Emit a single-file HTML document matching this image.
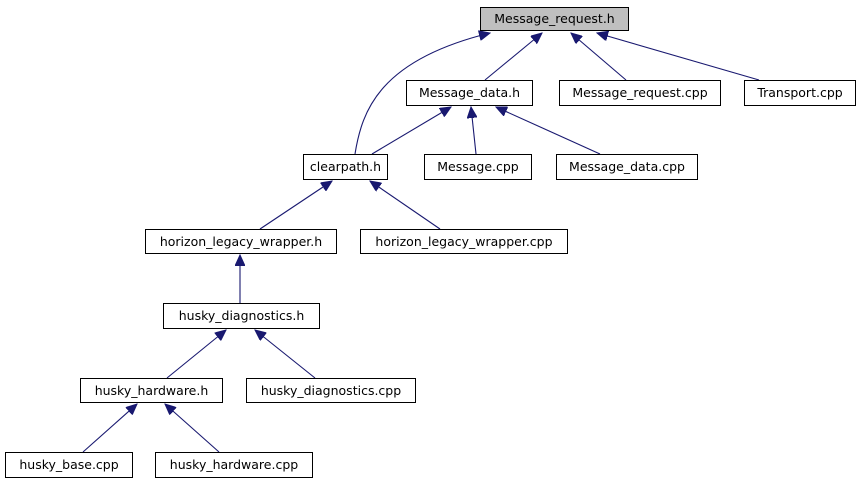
<!DOCTYPE html>
<html><head><meta charset="utf-8"><style>
html,body{margin:0;padding:0;background:#fff}
svg text{font-family:"DejaVu Sans","Liberation Sans",sans-serif;font-size:12.5px;fill:#000}
</style></head><body>
<svg width="859" height="485" viewBox="0 0 859 485" xmlns="http://www.w3.org/2000/svg">
<defs>
<marker id="a" markerUnits="userSpaceOnUse" markerWidth="12" markerHeight="10" refX="11" refY="5" orient="auto">
<path d="M0,0 L11,5 L0,10 Z" fill="#191970" stroke="#191970"/>
</marker>
</defs>
<g stroke="#191970" stroke-width="1.1" fill="none" marker-end="url(#a)">
<path d="M355,154 C362,110 380,60 490,33"/>
<line x1="485" y1="80" x2="542" y2="33"/>
<line x1="626" y1="80" x2="571" y2="33"/>
<line x1="759" y1="80" x2="597" y2="33"/>
<line x1="372" y1="154" x2="451" y2="107"/>
<line x1="476" y1="154" x2="471" y2="107"/>
<line x1="600" y1="154" x2="496" y2="107"/>
<line x1="260" y1="229" x2="332" y2="181"/>
<line x1="440" y1="229" x2="370" y2="181"/>
<line x1="240" y1="303" x2="240" y2="255"/>
<line x1="167" y1="378" x2="226" y2="330"/>
<line x1="315" y1="378" x2="255" y2="330"/>
<line x1="83" y1="452" x2="137" y2="404"/>
<line x1="219" y1="452" x2="165" y2="404"/>
</g>
<g stroke="#000" stroke-width="1" fill="#fff">
<rect x="480.5" y="7.5" width="148" height="23" fill="#bfbfbf"/>
<rect x="406.5" y="80.5" width="126" height="25"/>
<rect x="559.5" y="80.5" width="161" height="25"/>
<rect x="744.5" y="80.5" width="111" height="25"/>
<rect x="303.5" y="154.5" width="84" height="25"/>
<rect x="424.5" y="154.5" width="107" height="25"/>
<rect x="556.5" y="154.5" width="141" height="25"/>
<rect x="145.5" y="229.5" width="191" height="24"/>
<rect x="360.5" y="229.5" width="207" height="24"/>
<rect x="163.5" y="303.5" width="156" height="25"/>
<rect x="80.5" y="378.5" width="142" height="24"/>
<rect x="246.5" y="378.5" width="169" height="24"/>
<rect x="5.5" y="452.5" width="127" height="25"/>
<rect x="155.5" y="452.5" width="157" height="25"/>
</g>
<g text-anchor="middle">
<text x="554.5" y="23">Message_request.h</text>
<text x="469.5" y="97">Message_data.h</text>
<text x="640" y="97">Message_request.cpp</text>
<text x="800" y="97">Transport.cpp</text>
<text x="345.5" y="171">clearpath.h</text>
<text x="478" y="171">Message.cpp</text>
<text x="627" y="171">Message_data.cpp</text>
<text x="241" y="246">horizon_legacy_wrapper.h</text>
<text x="464" y="246">horizon_legacy_wrapper.cpp</text>
<text x="241.5" y="320">husky_diagnostics.h</text>
<text x="151.5" y="395">husky_hardware.h</text>
<text x="331" y="395">husky_diagnostics.cpp</text>
<text x="69" y="469">husky_base.cpp</text>
<text x="234" y="469">husky_hardware.cpp</text>
</g>
</svg>
</body></html>
